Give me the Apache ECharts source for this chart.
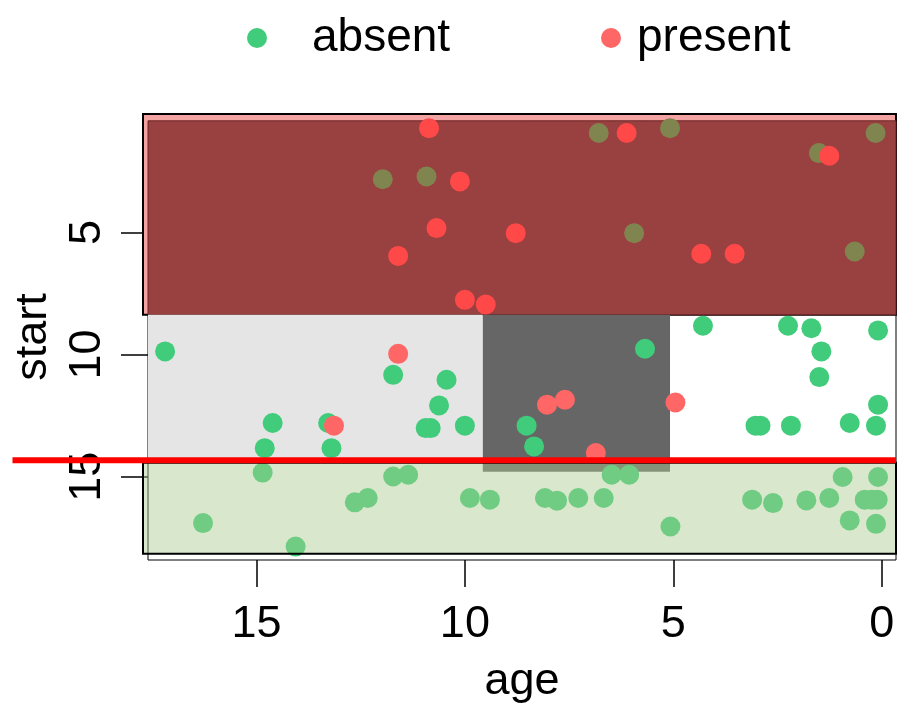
<!DOCTYPE html>
<html>
<head>
<meta charset="utf-8">
<script src="https://cdn.jsdelivr.net/npm/echarts@6/dist/echarts.min.js"></script>
<style>
  html, body { margin: 0; padding: 0; background: #fff; }
  #chart { width: 898px; height: 705px; }
</style>
</head>
<body>
<div id="chart"></div>
<script>
// absent / present points, age (x) and start (y)
const absentAge = [11.97, 10.92, 6.79, 5.08, 0.15, 1.51, 5.94, 0.65, 17.19, 11.72, 10.44, 10.62, 14.61, 13.28, 10.94, 10.82, 10.00, 8.52, 14.80, 13.20, 8.34,
  4.29, 2.25, 1.69, 0.09, 5.68, 1.45, 1.50, 0.09, 3.03, 2.91, 2.18, 0.77, 0.14,
  14.85, 16.28, 14.06, 12.64, 12.33, 11.72, 11.36, 9.88, 9.40, 8.08, 7.79, 7.28, 6.67, 6.48, 6.06, 5.07, 3.11, 2.61, 1.81, 1.26, 0.94, 0.09, 0.41, 0.24, 0.10, 0.77, 0.14]
const absentStart = [2.82, 2.71, 0.93, 0.73, 0.93, 1.75, 5.03, 5.78, 9.87, 10.83, 11.03, 12.08, 12.80, 12.80, 13.01, 13.01, 12.91, 12.91, 13.83, 13.83, 13.76,
  8.82, 8.82, 8.92, 9.01, 9.76, 9.87, 10.92, 12.05, 12.91, 12.91, 12.91, 12.80, 12.91,
  14.83, 16.90, 17.86, 16.05, 15.87, 14.99, 14.92, 15.87, 15.94, 15.87, 15.98, 15.87, 15.87, 14.92, 14.92, 17.04, 15.94, 16.08, 15.97, 15.87, 15.01, 15.01, 15.94, 15.94, 15.94, 16.79, 16.93]
const presentAge = [10.86, 10.12, 10.68, 8.78, 11.60, 10.00, 9.50, 6.12, 1.26, 4.33, 3.53, 11.60, 13.14, 7.60, 8.03, 4.95, 6.86]
const presentStart = [0.73, 2.91, 4.82, 5.03, 5.96, 7.76, 7.95, 0.93, 1.86, 5.87, 5.87, 9.97, 12.91, 11.85, 12.05, 11.96, 14.03]

const ageTicks = [0, 5, 10, 15]
const startTicks = [5, 10, 15]

// shaded bands: [age from, age to, start from, start to]
const backBands = [
  [-0.34, 17.72, 0.15, 8.37],
  [-0.34, 17.6, 0.43, 8.37],
  [9.57, 17.6, 8.37, 14.4],
  [5.08, 9.57, 8.37, 14.8]
]
const frontBands = [[-0.34, 17.72, 14.43, 18.15]]
const cutLine = [[20.85, -0.34, 14.33]]

const backStyles = [
  { fill: '#f4a3a3', stroke: '#000', lineWidth: 2 },
  { fill: '#994141', stroke: '#6e2424', lineWidth: 1 },
  { fill: '#e5e5e5' },
  { fill: '#666666' }
]
const topBandEnd = 8.37

const green = '#41cc7b'
const olive = '#80844f'
const red = '#ff6666'
const darkBandRed = '#ff4848'

const zip = (a, b) => a.map((v, i) => [v, b[i]])

let chart = echarts.init(document.getElementById('chart'))

const rectItem = (styles) => (params, api) => {
  const p1 = api.coord([api.value(0), api.value(2)])
  const p2 = api.coord([api.value(1), api.value(3)])
  return {
    type: 'rect',
    shape: {
      x: Math.min(p1[0], p2[0]),
      y: Math.min(p1[1], p2[1]),
      width: Math.abs(p2[0] - p1[0]),
      height: Math.abs(p2[1] - p1[1])
    },
    style: styles[params.dataIndex]
  }
}

const labelFont = 'Liberation Sans'

const option = {
  animation: false,
  textStyle: { fontFamily: labelFont },
  legend: [
    {
      data: [{ name: 'absent', itemStyle: { color: green } }],
      left: 247,
      top: 15,
      padding: 0,
      icon: 'circle',
      itemWidth: 20,
      itemHeight: 20,
      textStyle: { fontSize: 46, color: '#000', fontFamily: labelFont, padding: [0, 0, 0, 40] }
    },
    {
      data: [{ name: 'present', itemStyle: { color: red } }],
      left: 601,
      top: 15,
      padding: 0,
      icon: 'circle',
      itemWidth: 20,
      itemHeight: 20,
      textStyle: { fontSize: 46, color: '#000', fontFamily: labelFont, padding: [0, 0, 0, 11] }
    }
  ],
  grid: {
    left: 148,
    right: 2,
    top: 114,
    bottom: 145,
    outerBoundsMode: 'none',
    containLabel: false,
    show: true,
    borderColor: '#000',
    borderWidth: 1,
    backgroundColor: '#fff'
  },
  xAxis: {
    type: 'value',
    inverse: true,
    min: -0.34,
    max: 17.6,
    name: 'age',
    nameLocation: 'middle',
    nameGap: 99,
    nameTextStyle: { fontSize: 45, color: '#000', fontFamily: labelFont },
    axisLine: { show: false, onZero: false },
    splitLine: { show: false },
    axisTick: { show: true, customValues: ageTicks, length: 27, lineStyle: { color: '#000', width: 1.5 } },
    axisLabel: { customValues: ageTicks, fontSize: 45, color: '#000', margin: 42, fontFamily: labelFont }
  },
  yAxis: {
    type: 'value',
    inverse: true,
    min: 0.15,
    max: 18.41,
    name: 'start',
    nameLocation: 'middle',
    nameRotate: 90,
    nameGap: 92,
    nameTextStyle: { fontSize: 45, color: '#000', fontFamily: labelFont },
    axisLine: { show: false, onZero: false },
    splitLine: { show: false },
    axisTick: { show: true, customValues: startTicks, length: 27, lineStyle: { color: '#000', width: 1.5 } },
    axisLabel: { customValues: startTicks, rotate: 90, fontSize: 45, color: '#000', margin: 38, fontFamily: labelFont }
  },
  series: [
    {
      type: 'custom',
      clip: false,
      silent: true,
      z: 1,
      encode: { x: [0, 1], y: [2, 3] },
      renderItem: rectItem(backStyles),
      data: backBands
    },
    {
      name: 'absent',
      type: 'scatter',
      symbol: 'circle',
      symbolSize: 20,
      z: 3,
      itemStyle: { opacity: 1, color: (p) => (p.value[1] < topBandEnd ? olive : green) },
      data: zip(absentAge, absentStart)
    },
    {
      name: 'present',
      type: 'scatter',
      symbol: 'circle',
      symbolSize: 20,
      z: 4,
      itemStyle: { opacity: 1, color: (p) => (p.value[1] < topBandEnd ? darkBandRed : red) },
      data: zip(presentAge, presentStart)
    },
    {
      type: 'custom',
      clip: false,
      silent: true,
      z: 5,
      encode: { x: [0, 1], y: [2, 3] },
      renderItem: rectItem([{ fill: 'rgba(171,204,142,0.45)', stroke: '#000', lineWidth: 2 }]),
      data: frontBands
    },
    {
      type: 'custom',
      clip: false,
      silent: true,
      z: 10,
      encode: { x: [0, 1], y: 2 },
      renderItem: (params, api) => {
        const a = api.coord([api.value(0), api.value(2)])
        const b = api.coord([api.value(1), api.value(2)])
        return {
          type: 'line',
          shape: { x1: a[0], y1: a[1], x2: b[0], y2: b[1] },
          style: { stroke: '#ff0000', lineWidth: 6 }
        }
      },
      data: cutLine
    }
  ]
}
chart.setOption(option)
window.addEventListener('resize', () => chart.resize())
</script>
</body>
</html>
